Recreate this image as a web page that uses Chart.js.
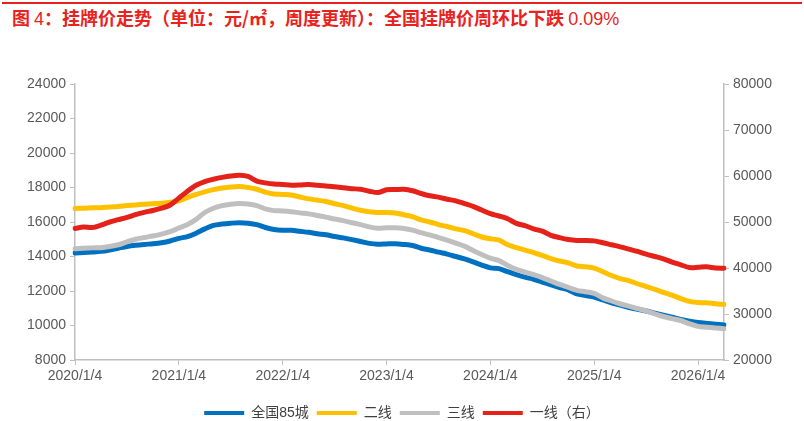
<!DOCTYPE html>
<html>
<head>
<meta charset="utf-8">
<script src="https://cdn.jsdelivr.net/npm/chart.js@4"></script>
<style>
    body { margin: 0; background: #fff; }
    #wrap { position: relative; width: 804px; height: 421px; }
    #topLine { position: absolute; left: 2px; right: 2px; top: 2px; height: 2px; background: #e8231e; }
    #title {
        position: absolute; left: 12px; top: 4px;
        font-family: "Noto Sans CJK SC", sans-serif;
        font-size: 18px; font-weight: 600; color: #e8231e; white-space: nowrap;
    }
    #title .num { font-family: "Liberation Sans", sans-serif; font-weight: normal; }
    #chart01 { position: absolute; left: 0; top: 0; }
</style>
</head>
<body>
<div id="wrap">
    <div id="topLine"></div>
    <div id="title">图 <span class="num">4</span>：挂牌价走势（单位：元/㎡，周度更新）：全国挂牌价周环比下跌 <span class="num">0.09%</span></div>
    <canvas id="chart01" width="804" height="421"></canvas>
</div>
<script>
// meses de 2020/1/4 até 2026/4/4
const labels = [];
for (let y = 2020; y <= 2026; y++) {
    for (let m = 1; m <= 12; m++) {
        if (y === 2026 && m > 4) break;
        labels.push(`${y}/${m}/4`);
    }
}

const nacional85 = [14200, 14230, 14260, 14300, 14380, 14480, 14580, 14650, 14700, 14740, 14800, 14900,
    15050, 15150, 15350, 15600, 15800, 15880, 15930, 15960, 15930, 15850, 15680, 15560,
    15520, 15520, 15460, 15400, 15320, 15260, 15160, 15080, 14980, 14870, 14760, 14710,
    14730, 14740, 14700, 14640, 14480, 14380, 14250, 14140, 14000, 13860, 13690, 13500,
    13340, 13300, 13120, 12950, 12800, 12680, 12520, 12360, 12200, 12070, 11830, 11740,
    11650, 11480, 11320, 11180, 11040, 10940, 10840, 10720, 10600, 10480, 10350, 10250,
    10170, 10120, 10080, 10030];

const linha2 = [16780, 16800, 16820, 16830, 16870, 16900, 16950, 16990, 17030, 17060, 17090, 17140,
    17230, 17420, 17600, 17750, 17880, 17970, 18030, 18060, 18000, 17900, 17730, 17620,
    17600, 17570, 17450, 17340, 17270, 17190, 17060, 16950, 16810, 16680, 16600, 16550,
    16550, 16520, 16420, 16310, 16120, 16000, 15850, 15740, 15600, 15500, 15320, 15130,
    15030, 14950, 14680, 14520, 14370, 14230, 14060, 13880, 13740, 13630, 13450, 13400,
    13330, 13120, 12900, 12720, 12600, 12420, 12260, 12100, 11920, 11760, 11560, 11400,
    11330, 11320, 11260, 11220];

const linha3 = [14450, 14480, 14500, 14510, 14580, 14680, 14850, 15000, 15100, 15190, 15300, 15440,
    15650, 15850, 16150, 16550, 16800, 16950, 17030, 17070, 17040, 16950, 16760, 16660,
    16640, 16600, 16530, 16470, 16380, 16280, 16170, 16080, 15960, 15850, 15720, 15640,
    15660, 15660, 15620, 15530, 15380, 15250, 15100, 14950, 14780, 14600, 14350, 14120,
    13900, 13760, 13480, 13250, 13100, 12950, 12780, 12580, 12380, 12210, 12040, 11960,
    11860, 11600, 11420, 11260, 11120, 10980, 10850, 10680, 10520, 10400, 10290, 10100,
    9950, 9900, 9860, 9810];

const linha1 = [48600, 48900, 48800, 49300, 50000, 50500, 51000, 51600, 52100, 52500, 53000, 53700,
    55200, 56700, 58000, 58800, 59300, 59700, 60000, 60150, 59900, 58900, 58500, 58250,
    58150, 58000, 58050, 58150, 58000, 57850, 57650, 57450, 57250, 57100, 56700, 56400,
    57000, 57050, 57100, 56800, 56200, 55700, 55400, 54950, 54600, 54000, 53400, 52600,
    51800, 51300, 50700, 49700, 49200, 48500, 48000, 47100, 46600, 46200, 46000, 46000,
    45900, 45500, 45050, 44600, 44100, 43600, 43000, 42500, 42000, 41300, 40700, 40100,
    40150, 40250, 40000, 39950];

const fontFam = '"Liberation Sans", "Noto Sans CJK SC", sans-serif';
const axisColor = '#bfbfbf';
const tickColor = '#595959';

function serie(label, data, color, axis, order) {
    return {
        label: label,
        data: data,
        borderColor: color,
        backgroundColor: color,
        borderWidth: 5,
        pointRadius: 0,
        tension: 0.3,
        borderCapStyle: 'round',
        borderJoinStyle: 'round',
        yAxisID: axis,
        order: order
    };
}

const ctx01 = document.getElementById('chart01');
const chart = new Chart(ctx01, {
    type: 'line',
    data: {
        labels: labels,
        datasets: [
            serie('全国85城', nacional85, '#0070c0', 'y', 3),
            serie('二线', linha2, '#ffc000', 'y', 2),
            serie('三线', linha3, '#bfbfbf', 'y', 1),
            serie('一线（右）', linha1, '#e42219', 'y1', 0)
        ]
    },
    options: {
        responsive: false,
        animation: false,
        layout: { padding: { top: 84, bottom: -9, left: 0, right: 0 } },
        plugins: {
            legend: {
                position: 'bottom',
                // titulo vazio so para abrir espaco acima dos itens
                title: { display: true, text: ' ', font: { size: 1 }, padding: { top: 0, bottom: 9 } },
                labels: {
                    boxWidth: 40,
                    boxHeight: 4,
                    padding: 8,
                    color: '#404040',
                    font: { family: fontFam, size: 14 },
                    sort: (a, b) => a.datasetIndex - b.datasetIndex,
                    generateLabels: (c) => {
                        const items = Chart.defaults.plugins.legend.labels.generateLabels(c);
                        items.forEach(it => { it.lineWidth = 0; });
                        return items;
                    }
                }
            },
            tooltip: { enabled: false }
        },
        scales: {
            x: {
                type: 'category',
                offset: false,
                grid: { display: true, drawOnChartArea: false, drawTicks: true, tickLength: 5, color: axisColor },
                border: { color: axisColor, width: 1.5 },
                afterBuildTicks: (axis) => {
                    axis.ticks = axis.ticks.filter(t => t.value % 12 === 0);
                },
                ticks: {
                    autoSkip: false,
                    maxRotation: 0,
                    color: tickColor,
                    font: { family: fontFam, size: 14 },
                    callback: function (value) {
                        return this.getLabelForValue(value);
                    }
                }
            },
            y: {
                position: 'left',
                min: 8000,
                max: 24000,
                afterFit: (s) => { s.width = 75; },
                grid: { drawOnChartArea: false, tickLength: 5, color: axisColor },
                border: { color: axisColor, width: 1.5 },
                ticks: { stepSize: 2000, color: tickColor, padding: 4, font: { family: fontFam, size: 14 }, callback: v => String(v) }
            },
            y1: {
                position: 'right',
                min: 20000,
                max: 80000,
                afterFit: (s) => { s.width = 80; },
                grid: { drawOnChartArea: false, tickLength: 5, color: axisColor },
                border: { color: axisColor, width: 1.5 },
                ticks: { stepSize: 10000, color: tickColor, padding: 4, font: { family: fontFam, size: 14 }, callback: v => String(v) }
            }
        }
    }
});
</script>
</body>
</html>
